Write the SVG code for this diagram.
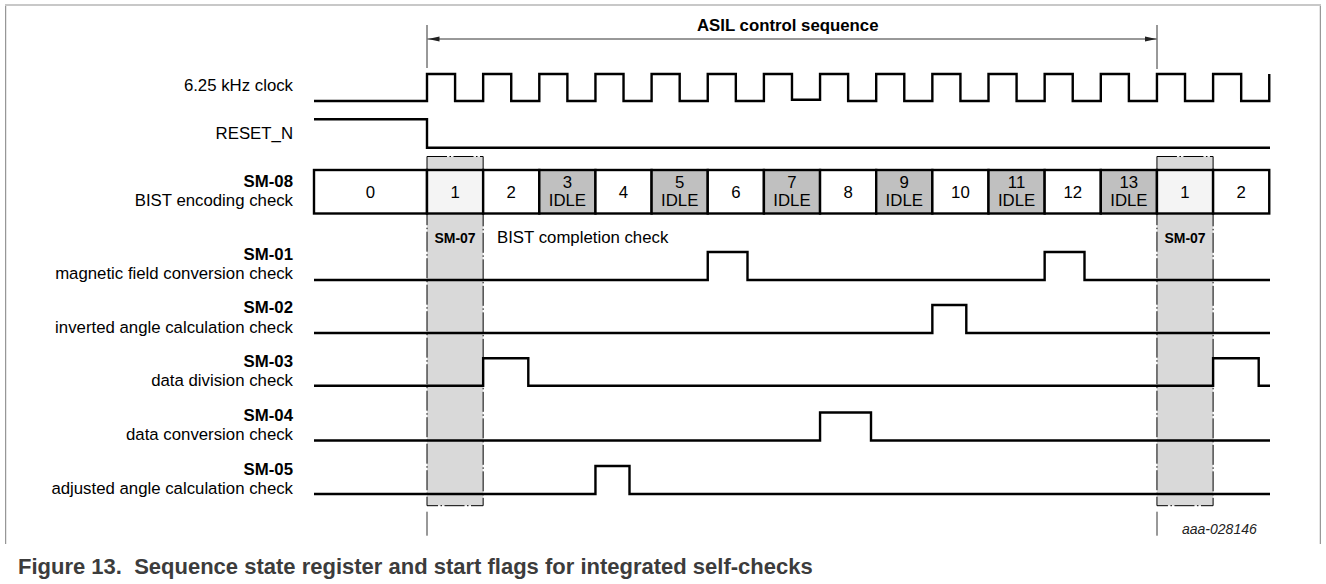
<svg xmlns="http://www.w3.org/2000/svg" width="1326" height="584" viewBox="0 0 1326 584">
<style>
text{font-family:"Liberation Sans",Arial,Helvetica,sans-serif;fill:#000}
.lbl{font-size:16.8px;text-anchor:end}
.b{font-weight:bold}
.c{font-size:16.8px;text-anchor:middle}
.sig{fill:none;stroke:#000;stroke-width:2.4;stroke-linejoin:miter}
.cell{stroke:#000;stroke-width:2.4}
.w{fill:#fff}
.g{fill:#c0c0c0}
.l1{fill:#f4f4f4}
.band{fill:#d9d9d9;stroke:#000;stroke-width:1;stroke-dasharray:20 2.5 1.5 2.5}
.thin{stroke:#333;stroke-width:1;fill:none}
.sm07{font-size:14px;font-weight:bold;text-anchor:middle}
</style>
<defs>
<marker id="ah" viewBox="0 0 12 6" refX="12" refY="3" markerWidth="12" markerHeight="6" markerUnits="userSpaceOnUse" orient="auto-start-reverse">
<path d="M0,0.5 L12,3 L0,5.5 Z" fill="#222"/>
</marker>
</defs>
<rect width="1326" height="584" fill="#fff"/>
<g id="frame">
<path d="M5.7,544 V5" stroke="#7f7f7f" stroke-width="1" fill="none"/>
<path d="M1320.3,544 V5" stroke="#7f7f7f" stroke-width="1" fill="none"/>
<path d="M5,5 H1321" stroke="#c8c8c8" stroke-width="2" fill="none"/>
</g>
<g id="sm07-band-1">
<rect class="band" x="427" y="156.5" width="56.15" height="349.2"/>
<text class="sm07" x="455" y="243.3">SM-07</text>
<line class="thin" x1="427" y1="511.7" x2="427" y2="535.7"/>
</g>
<g id="sm07-band-2">
<rect class="band" x="1156.95" y="156.5" width="56.15" height="349.2"/>
<text class="sm07" x="1185" y="243.3">SM-07</text>
<line class="thin" x1="1157" y1="511.7" x2="1157" y2="535.7"/>
</g>
<g id="bist-completion">
<text x="497" y="243" style="font-size:16.8px">BIST completion check</text>
</g>
<g id="connectors">
<line class="thin" x1="427" y1="25" x2="427" y2="68"/>
<line class="thin" x1="1157" y1="25" x2="1157" y2="69"/>
<line class="thin" x1="427.5" y1="39" x2="1156.5" y2="39" marker-start="url(#ah)" marker-end="url(#ah)"/>
<text class="b" x="697" y="30.5" style="font-size:16.8px">ASIL control sequence</text>
</g>
<g id="clock">
<text class="lbl" x="293" y="91">6.25 kHz clock</text>
<path class="sig" d="M314,101 H427 V74 H455.08 V101 H483.15 V74 H511.23 V101 H539.3 V74 H567.38 V101 H595.45 V74 H623.53 V101 H651.6 V74 H679.68 V101 H707.75 V74 H735.83 V101 H763.9 V74 H791.98 V99.8 H820.05 V74 H848.13 V101 H876.2 V74 H904.28 V101 H932.35 V74 H960.43 V101 H988.5 V74 H1016.58 V101 H1044.65 V74 H1072.73 V101 H1100.8 V74 H1128.88 V101 H1156.95 V74 H1185.03 V101 H1213.1 V74 H1241.18 V101 H1269.25 V74"/>
</g>
<g id="reset-n">
<text class="lbl" x="293" y="139">RESET_N</text>
<path class="sig" d="M314,119.3 H427 V147.7 H1270"/>
</g>
<g id="sm-08">
<text class="lbl b" x="293" y="187">SM-08</text>
<text class="lbl" x="293" y="206">BIST encoding check</text>
<rect class="cell w" x="314" y="170" width="113" height="43.5"/>
<rect class="cell l1" x="427" y="170" width="56.15" height="43.5"/>
<rect class="cell w" x="483.15" y="170" width="56.15" height="43.5"/>
<rect class="cell g" x="539.3" y="170" width="56.15" height="43.5"/>
<rect class="cell w" x="595.45" y="170" width="56.15" height="43.5"/>
<rect class="cell g" x="651.6" y="170" width="56.15" height="43.5"/>
<rect class="cell w" x="707.75" y="170" width="56.15" height="43.5"/>
<rect class="cell g" x="763.9" y="170" width="56.15" height="43.5"/>
<rect class="cell w" x="820.05" y="170" width="56.15" height="43.5"/>
<rect class="cell g" x="876.2" y="170" width="56.15" height="43.5"/>
<rect class="cell w" x="932.35" y="170" width="56.15" height="43.5"/>
<rect class="cell g" x="988.5" y="170" width="56.15" height="43.5"/>
<rect class="cell w" x="1044.65" y="170" width="56.15" height="43.5"/>
<rect class="cell g" x="1100.8" y="170" width="56.15" height="43.5"/>
<rect class="cell l1" x="1156.95" y="170" width="56.15" height="43.5"/>
<rect class="cell w" x="1213.1" y="170" width="56.15" height="43.5"/>
<text class="c" x="370.5" y="197.8">0</text>
<text class="c" x="455.08" y="197.8">1</text>
<text class="c" x="511.23" y="197.8">2</text>
<text class="c" x="567.38" y="187.5">3</text><text class="c" x="567.38" y="205.5">IDLE</text>
<text class="c" x="623.53" y="197.8">4</text>
<text class="c" x="679.68" y="187.5">5</text><text class="c" x="679.68" y="205.5">IDLE</text>
<text class="c" x="735.83" y="197.8">6</text>
<text class="c" x="791.98" y="187.5">7</text><text class="c" x="791.98" y="205.5">IDLE</text>
<text class="c" x="848.13" y="197.8">8</text>
<text class="c" x="904.28" y="187.5">9</text><text class="c" x="904.28" y="205.5">IDLE</text>
<text class="c" x="960.43" y="197.8">10</text>
<text class="c" x="1016.58" y="187.5">11</text><text class="c" x="1016.58" y="205.5">IDLE</text>
<text class="c" x="1072.73" y="197.8">12</text>
<text class="c" x="1128.88" y="187.5">13</text><text class="c" x="1128.88" y="205.5">IDLE</text>
<text class="c" x="1185.03" y="197.8">1</text>
<text class="c" x="1241.18" y="197.8">2</text>
</g>
<g id="sm-01">
<text class="lbl b" x="293" y="260">SM-01</text>
<text class="lbl" x="293" y="279">magnetic field conversion check</text>
<path class="sig" d="M314,280 H707.75 V252 H747.5 V280 H1044.65 V252 H1084.5 V280 H1270"/>
</g>
<g id="sm-02">
<text class="lbl b" x="293" y="313">SM-02</text>
<text class="lbl" x="293" y="332.5">inverted angle calculation check</text>
<path class="sig" d="M314,333 H932.35 V305 H966.3 V333 H1270"/>
</g>
<g id="sm-03">
<text class="lbl b" x="293" y="366.5">SM-03</text>
<text class="lbl" x="293" y="386">data division check</text>
<path class="sig" d="M314,385.7 H483.15 V358.3 H528.3 V385.7 H1213.1 V358.3 H1258.7 V385.7 H1270"/>
</g>
<g id="sm-04">
<text class="lbl b" x="293" y="421">SM-04</text>
<text class="lbl" x="293" y="440">data conversion check</text>
<path class="sig" d="M314,440.5 H820.05 V412.5 H871 V440.5 H1270"/>
</g>
<g id="sm-05">
<text class="lbl b" x="293" y="475">SM-05</text>
<text class="lbl" x="293" y="494">adjusted angle calculation check</text>
<path class="sig" d="M314,494 H595.45 V466 H629.5 V494 H1270"/>
</g>
<g id="doc-id">
<text x="1182" y="534" style="font-size:14px;font-style:italic;fill:#222">aaa-028146</text>
</g>
<g id="caption">
<text x="18" y="574" xml:space="preserve" style="font-size:22px;font-weight:bold;fill:#3c3c3c">Figure 13.  Sequence state register and start flags for integrated self-checks</text>
</g>
</svg>
